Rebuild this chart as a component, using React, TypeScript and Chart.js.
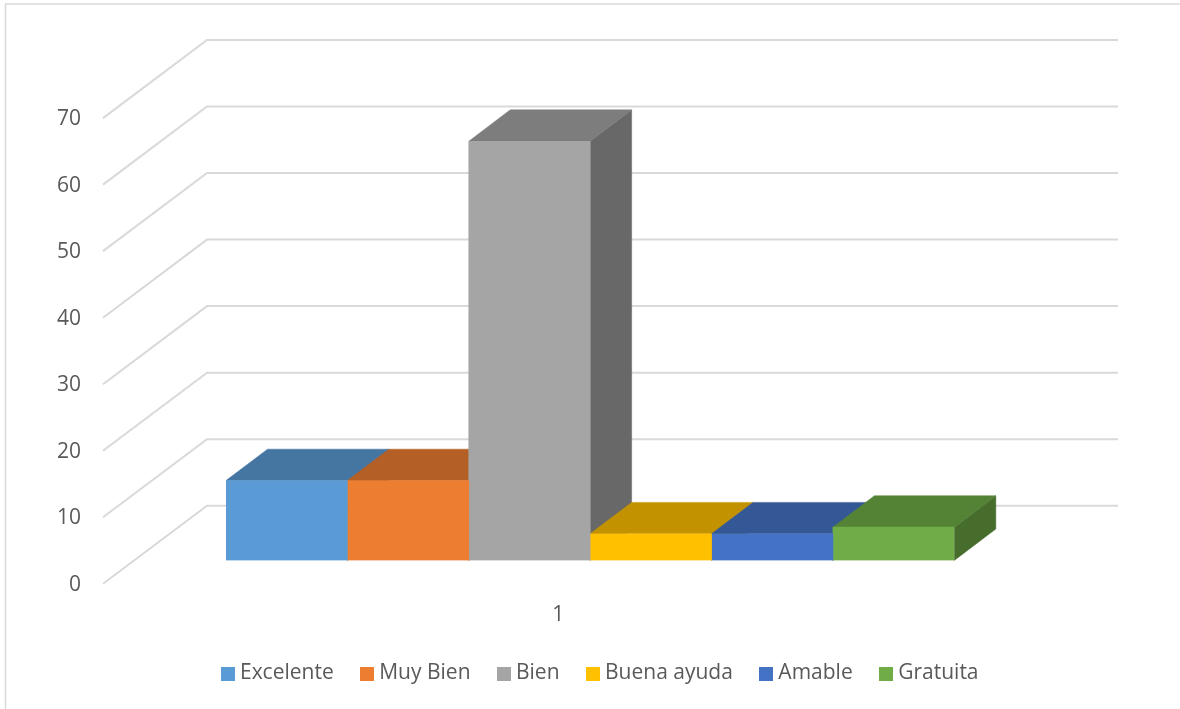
import React, { useEffect, useRef } from "react";
import { Chart, registerables } from "chart.js";

Chart.register(...registerables);

const categories = ["1"];
const seriesNames = ["Excelente", "Muy Bien", "Bien", "Buena ayuda", "Amable", "Gratuita"];
const excelente = [12];
const muyBien = [12];
const bien = [63];
const buenaAyuda = [4];
const amable = [4];
const gratuita = [5];
const seriesValues = [excelente, muyBien, bien, buenaAyuda, amable, gratuita];
const seriesColors = ["#5B9BD5", "#ED7D31", "#A5A5A5", "#FFC000", "#4472C4", "#70AD47"];
const yTickStep = 10;
const yMax = 70;

const FONT = "'Open Sans', sans-serif";
const TEXT = "#595959";
const GRID = "#D9D9D9";
const BAR_DEPTH = { x: 41.5, y: -31.4 };
const WALL = { frontX: 103, backX: 207, backDy: -54.7, frontDy: 23.4, right: 1118 };

function shade(hex: string, f: number) {
  const n = parseInt(hex.slice(1), 16);
  const r = Math.round(((n >> 16) & 255) * f);
  const g = Math.round(((n >> 8) & 255) * f);
  const b = Math.round((n & 255) * f);
  return `rgb(${r},${g},${b})`;
}

function swatch(color: string) {
  const c = document.createElement("canvas");
  c.width = 14;
  c.height = 14;
  const x = c.getContext("2d")!;
  x.fillStyle = color;
  x.fillRect(0, 0, 14, 14);
  return c;
}

const poly = (ctx: CanvasRenderingContext2D, pts: number[][], fill: string) => {
  ctx.beginPath();
  pts.forEach(([x, y], i) => (i ? ctx.lineTo(x, y) : ctx.moveTo(x, y)));
  ctx.closePath();
  ctx.fillStyle = fill;
  ctx.fill();
  ctx.strokeStyle = fill;
  ctx.lineWidth = 0.5;
  ctx.stroke();
};

const frame3d = {
  id: "frame3d",
  afterLayout(chart: any) {
    chart.legend.top -= 15;
    chart.legend.bottom -= 15;
    chart.legend.left += 12.5;
    chart.legend.right += 12.5;
    chart.scales.x.bottom += 30;
  },
  beforeDraw(chart: any) {
    const { ctx } = chart;
    ctx.save();
    ctx.fillStyle = "#fff";
    ctx.fillRect(0, 0, chart.width, chart.height);
    ctx.strokeStyle = GRID;
    ctx.lineWidth = 1.5;
    ctx.beginPath();
    ctx.moveTo(5.5, chart.height);
    ctx.lineTo(5.5, 4);
    ctx.lineTo(chart.width, 4);
    ctx.stroke();
    ctx.restore();
  },
  beforeDatasetsDraw(chart: any) {
    const { ctx } = chart;
    const yScale = chart.scales.y;
    ctx.save();
    // walls: every tick of the value axis gives one bent grid line
    ctx.strokeStyle = GRID;
    ctx.lineWidth = 2;
    yScale.ticks.forEach((t: any) => {
      const y = yScale.getPixelForValue(t.value);
      ctx.beginPath();
      ctx.moveTo(WALL.frontX, y + WALL.frontDy);
      ctx.lineTo(WALL.backX, y + WALL.backDy);
      ctx.lineTo(WALL.right, y + WALL.backDy);
      ctx.stroke();
    });
    // top and side faces of each bar, left to right
    chart.data.datasets.forEach((ds: any, i: number) => {
      const el = chart.getDatasetMeta(i).data[0];
      const l = el.x - el.width / 2;
      const r = el.x + el.width / 2;
      const top = el.y;
      const base = el.base;
      const dx = BAR_DEPTH.x;
      const dy = BAR_DEPTH.y;
      poly(ctx, [[r, top], [r + dx, top + dy], [r + dx, base + dy], [r, base]], shade(ds.backgroundColor, 0.63));
      poly(ctx, [[l, top], [r, top], [r + dx, top + dy], [l + dx, top + dy]], shade(ds.backgroundColor, 0.76));
    });
    ctx.restore();
  },
};

export default function App() {
  const ref = useRef<HTMLCanvasElement>(null);
  useEffect(() => {
    document.body.style.margin = "0";
    const chart = new Chart(ref.current!, {
      type: "bar",
      data: {
        labels: categories,
        datasets: seriesNames.map((label, i) => ({
          label,
          data: seriesValues[i],
          backgroundColor: seriesColors[i],
          borderWidth: 0,
          barPercentage: 1,
          categoryPercentage: 1,
        })),
      },
      options: {
        animation: false,
        responsive: false,
        devicePixelRatio: 1,
        layout: { padding: { top: 94.7, left: 0, right: 0, bottom: 0 } },
        plugins: {
          title: { display: false },
          tooltip: { enabled: false },
          legend: {
            display: true,
            position: "bottom",
            labels: {
              usePointStyle: true,
              pointStyleWidth: 3,
              padding: 32,
              color: TEXT,
              font: { family: FONT, size: 21 },
              generateLabels(chart: any) {
                return Chart.defaults.plugins.legend.labels
                  .generateLabels(chart)
                  .map((item: any, i: number) => ({ ...item, pointStyle: swatch(seriesColors[i]) }));
              },
            },
          },
        },
        scales: {
          x: {
            grid: { display: false },
            border: { display: false },
            ticks: {
              color: TEXT,
              font: { family: FONT, size: 21 },
              labelOffset: -32,
              padding: 34,
              maxRotation: 0,
            },
            afterFit(s: any) {
              s.height = 85.6;
              s.paddingLeft = 0;
              s.paddingRight = 0;
            },
          },
          y: {
            min: 0,
            max: yMax,
            grid: { display: false },
            border: { display: false },
            ticks: {
              stepSize: yTickStep,
              color: TEXT,
              font: { family: FONT, size: 21 },
              labelOffset: 24.3,
              padding: 137,
            },
            afterFit(s: any) {
              s.width = 226;
              s.paddingTop = 0;
              s.paddingBottom = 0;
            },
          },
          pad: {
            type: "linear",
            position: "right",
            grid: { display: false },
            border: { display: false },
            ticks: { display: false },
            afterFit(s: any) {
              s.width = 225.7;
              s.paddingTop = 0;
              s.paddingBottom = 0;
            },
          },
        },
      },
      plugins: [frame3d],
    } as any);
    return () => chart.destroy();
  }, []);
  return (
    <div style={{ position: "fixed", inset: 0, overflow: "hidden", background: "#fff" }}>
      <canvas ref={ref} width={1180} height={709} style={{ display: "block" }} />
    </div>
  );
}
